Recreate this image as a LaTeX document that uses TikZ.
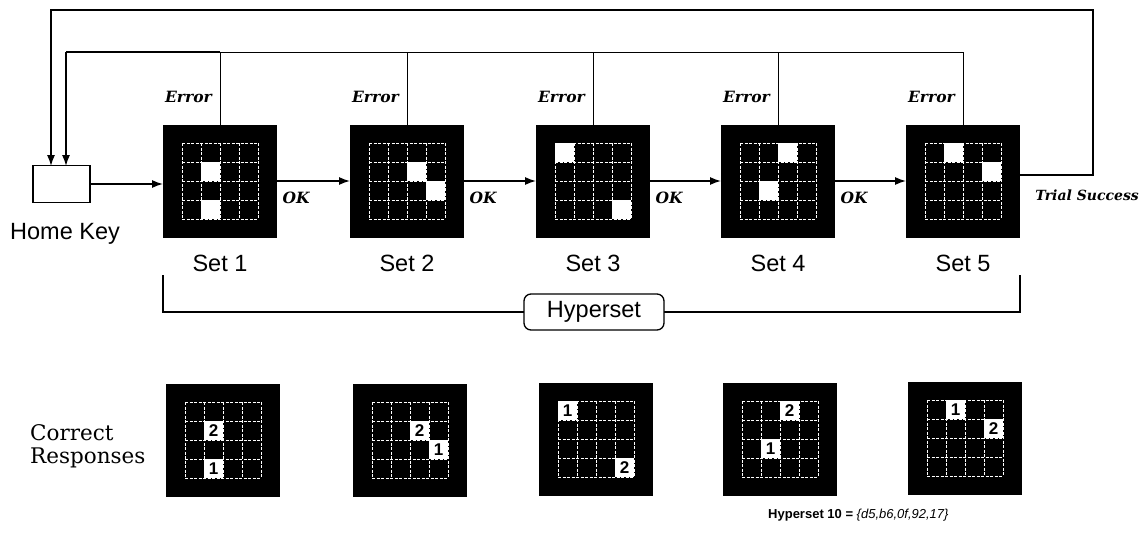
\documentclass[tikz,border=0pt]{standalone}
\usepackage{fontspec}
\setmainfont{DejaVu Serif}
\newfontfamily\lsans{Liberation Sans}
\usetikzlibrary{arrows.meta}
\newcommand\drawgrid[1]{%
  \begin{scope}[shift={(#1.center)}]
    \foreach \k in {0,...,4} {
      \draw[gridline] (-38+19*\k,-38) -- (-38+19*\k,38);
      \draw[gridline] (-38,-38+19*\k) -- (38,-38+19*\k);
    }
  \end{scope}}
\newcommand\wcell[3]{%
  \begin{scope}[shift={(#1.center)}]
    \fill[white] (19*#2-57,19*#3-57) rectangle ++(19,19);
  \end{scope}}
\newcommand\ncell[4]{%
  \begin{scope}[shift={(#1.center)}]
    \node[numcell] (#1n#4) at (19*#2-47.5,19*#3-47.5) {#4};
  \end{scope}}
\begin{document}
\begin{tikzpicture}[x=1pt,y=-1pt,
  panelbox/.style={fill=black, draw=none, minimum width=114pt, minimum height=113pt, inner sep=0pt, outer sep=0pt},
  gridline/.style={white, line width=0.9pt, dash pattern=on 3pt off 1.5pt},
  numcell/.style={fill=white, minimum size=19pt, inner sep=0pt, font=\lsans\bfseries\fontsize{17}{17}\selectfont},
  ital/.style={font=\bfseries\itshape\fontsize{15.5}{18}\selectfont, inner sep=0pt},
  setlbl/.style={font=\lsans\fontsize{23.5}{26}\selectfont, inner sep=0pt},
  flow/.style={line width=1.4pt, -{Latex[length=11pt,width=8pt]}},
  loopline/.style={line width=1.3pt},
  errline/.style={line width=0.8pt},
  hkbox/.style={draw, line width=1.3pt, minimum width=57pt, minimum height=37pt, inner sep=0pt, outer sep=0pt},
  hypbox/.style={draw, fill=white, line width=1.3pt, rounded corners=7pt, minimum width=140pt, minimum height=36pt, inner sep=0pt, font=\lsans\fontsize{23.5}{26}\selectfont},
]
\useasboundingbox (0,0) rectangle (1142,535);

% ---- top panels
\node[panelbox] (s1) at (220,181) {};
\node[panelbox] (s2) at (407,181) {};
\node[panelbox] (s3) at (593,181) {};
\node[panelbox] (s4) at (778,181) {};
\node[panelbox] (s5) at (963,181) {};
\foreach \p in {s1,s2,s3,s4,s5} {\drawgrid{\p}}
\wcell{s1}{2}{2} \wcell{s1}{2}{4}
\wcell{s2}{3}{2} \wcell{s2}{4}{3}
\wcell{s3}{1}{1} \wcell{s3}{4}{4}
\wcell{s4}{3}{1} \wcell{s4}{2}{3}
\wcell{s5}{2}{1} \wcell{s5}{4}{2}

% ---- set labels
\node[setlbl] (l1) at (220,263) {Set 1};
\node[setlbl] (l2) at (407,263) {Set 2};
\node[setlbl] (l3) at (593,263) {Set 3};
\node[setlbl] (l4) at (778,263) {Set 4};
\node[setlbl] (l5) at (963,263) {Set 5};

% ---- home key
\node[hkbox] (hk) at (61.5,184) {};
\node[setlbl] (hkl) at (65,234) {Home Key};

% ---- flow arrows
\draw[flow] (hk.east) -- (hk.east -| s1.west);
\draw[flow] (s1.east) -- (s2.west);
\draw[flow] (s2.east) -- (s3.west);
\draw[flow] (s3.east) -- (s4.west);
\draw[flow] (s4.east) -- (s5.west);
\node[ital] (ok1) at (296,198) {OK};
\node[ital] (ok2) at (483,198) {OK};
\node[ital] (ok3) at (669,198) {OK};
\node[ital] (ok4) at (854,198) {OK};

% ---- error lines
\foreach \p in {s1,s2,s3,s4} {\draw[errline] (\p.north) -- (\p.north |- 0,52);}
\draw[errline] (s5.north) |- (66,52);
\draw[loopline] (s1.north |- 0,52) -- (66,52);
\draw[loopline, -{Latex[length=11pt,width=8pt]}] (66,52) -- (66,166);
\node[ital, anchor=east] (e1) at (212,97) {Error};
\node[ital, anchor=east] (e2) at (399,97) {Error};
\node[ital, anchor=east] (e3) at (585,97) {Error};
\node[ital, anchor=east] (e4) at (770,97) {Error};
\node[ital, anchor=east] (e5) at (955,97) {Error};

% ---- trial success loop
\draw[loopline, -{Latex[length=11pt,width=8pt]}] (s5.east |- 0,175) -| (1093,10) -| (51,166);
\node[ital, anchor=east, font=\bfseries\itshape\fontsize{14}{16}\selectfont] (ts) at (1139,195) {Trial Success};

% ---- hyperset bracket
\draw[loopline] (s1.west |- 0,275) |- (s5.east |- 0,312) -- (s5.east |- 0,275);
\node[hypbox] (hyp) at (594,312) {Hyperset};

% ---- correct responses
\node[anchor=base west, inner sep=0pt, font=\fontsize{21.5}{25}\selectfont] (cr1) at (30,440) {Correct};
\node[anchor=base west, inner sep=0pt, font=\fontsize{21.5}{25}\selectfont] (cr2) at (30,463) {Responses};

\node[panelbox] (c1) at (223,440) {};
\node[panelbox] (c2) at (410,440) {};
\node[panelbox] (c3) at (596,439) {};
\node[panelbox] (c4) at (780,439) {};
\node[panelbox] (c5) at (965,438) {};
\foreach \p in {c1,c2,c3,c4,c5} {\drawgrid{\p}}
\ncell{c1}{2}{2}{2} \ncell{c1}{2}{4}{1}
\ncell{c2}{3}{2}{2} \ncell{c2}{4}{3}{1}
\ncell{c3}{1}{1}{1} \ncell{c3}{4}{4}{2}
\ncell{c4}{3}{1}{2} \ncell{c4}{2}{3}{1}
\ncell{c5}{2}{1}{1} \ncell{c5}{4}{2}{2}

\node[anchor=base west, inner sep=0pt, font=\lsans\bfseries\fontsize{13}{15}\selectfont] (hs10) at (768,518) {Hyperset 10 = {\mdseries\itshape\{d5,b6,0f,92,17\}}};
\end{tikzpicture}
\end{document}
